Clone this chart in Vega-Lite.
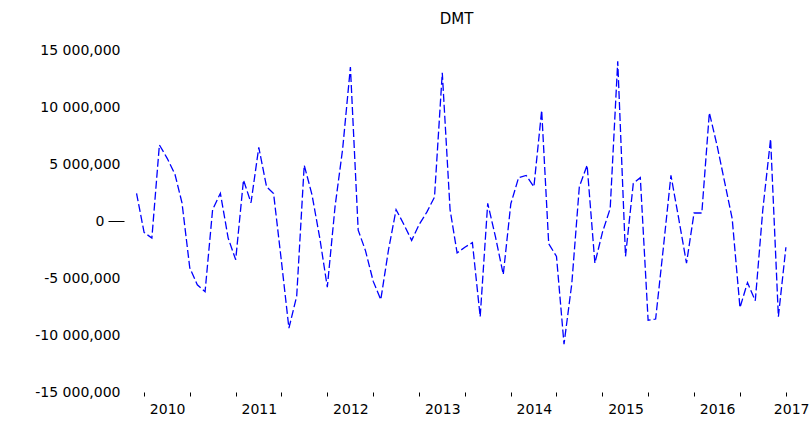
{
  "$schema": "https://vega.github.io/schema/vega-lite/v6.json",
  "autosize": "none",
  "padding": {"left": 124, "top": 50, "right": 0, "bottom": 34},
  "width": 685,
  "height": 342,
  "background": "white",
  "config": {
    "view": {"stroke": null},
    "font": "DejaVu Sans"
  },
  "title": {
    "text": "DMT",
    "font": "DejaVu Sans",
    "fontSize": 15,
    "fontWeight": "normal",
    "color": "#000000",
    "offset": 16,
    "dx": -10
  },
  "data": {
    "values": [
      {"date": "2009-09-01", "value": 2430000},
      {"date": "2009-10-01", "value": -1000000},
      {"date": "2009-11-01", "value": -1500000},
      {"date": "2009-12-01", "value": 6670000},
      {"date": "2010-01-01", "value": 5500000},
      {"date": "2010-02-01", "value": 4100000},
      {"date": "2010-03-01", "value": 1600000},
      {"date": "2010-04-01", "value": -4100000},
      {"date": "2010-05-01", "value": -5600000},
      {"date": "2010-06-01", "value": -6200000},
      {"date": "2010-07-01", "value": 1000000},
      {"date": "2010-08-01", "value": 2430000},
      {"date": "2010-09-01", "value": -1500000},
      {"date": "2010-10-01", "value": -3400000},
      {"date": "2010-11-01", "value": 3600000},
      {"date": "2010-12-01", "value": 1600000},
      {"date": "2011-01-01", "value": 6460000},
      {"date": "2011-02-01", "value": 3000000},
      {"date": "2011-03-01", "value": 2400000},
      {"date": "2011-04-01", "value": -3500000},
      {"date": "2011-05-01", "value": -9400000},
      {"date": "2011-06-01", "value": -6600000},
      {"date": "2011-07-01", "value": 4900000},
      {"date": "2011-08-01", "value": 2300000},
      {"date": "2011-09-01", "value": -1500000},
      {"date": "2011-10-01", "value": -5800000},
      {"date": "2011-11-01", "value": 1300000},
      {"date": "2011-12-01", "value": 6300000},
      {"date": "2012-01-01", "value": 13500000},
      {"date": "2012-02-01", "value": -800000},
      {"date": "2012-03-01", "value": -2600000},
      {"date": "2012-04-01", "value": -5300000},
      {"date": "2012-05-01", "value": -6900000},
      {"date": "2012-06-01", "value": -2500000},
      {"date": "2012-07-01", "value": 1000000},
      {"date": "2012-08-01", "value": -300000},
      {"date": "2012-09-01", "value": -1700000},
      {"date": "2012-10-01", "value": -300000},
      {"date": "2012-11-01", "value": 800000},
      {"date": "2012-12-01", "value": 2100000},
      {"date": "2013-01-01", "value": 13000000},
      {"date": "2013-02-01", "value": 1000000},
      {"date": "2013-03-01", "value": -2800000},
      {"date": "2013-04-01", "value": -2300000},
      {"date": "2013-05-01", "value": -1900000},
      {"date": "2013-06-01", "value": -8400000},
      {"date": "2013-07-01", "value": 1550000},
      {"date": "2013-08-01", "value": -1400000},
      {"date": "2013-09-01", "value": -4700000},
      {"date": "2013-10-01", "value": 1500000},
      {"date": "2013-11-01", "value": 3800000},
      {"date": "2013-12-01", "value": 4000000},
      {"date": "2014-01-01", "value": 3000000},
      {"date": "2014-02-01", "value": 9700000},
      {"date": "2014-03-01", "value": -2000000},
      {"date": "2014-04-01", "value": -3100000},
      {"date": "2014-05-01", "value": -10800000},
      {"date": "2014-06-01", "value": -5500000},
      {"date": "2014-07-01", "value": 3000000},
      {"date": "2014-08-01", "value": 4900000},
      {"date": "2014-09-01", "value": -3700000},
      {"date": "2014-10-01", "value": -1000000},
      {"date": "2014-11-01", "value": 1100000},
      {"date": "2014-12-01", "value": 14000000},
      {"date": "2015-01-01", "value": -3100000},
      {"date": "2015-02-01", "value": 3300000},
      {"date": "2015-03-01", "value": 3800000},
      {"date": "2015-04-01", "value": -8700000},
      {"date": "2015-05-01", "value": -8600000},
      {"date": "2015-06-01", "value": -2300000},
      {"date": "2015-07-01", "value": 4000000},
      {"date": "2015-08-01", "value": 200000},
      {"date": "2015-09-01", "value": -3700000},
      {"date": "2015-10-01", "value": 700000},
      {"date": "2015-11-01", "value": 700000},
      {"date": "2015-12-01", "value": 9500000},
      {"date": "2016-01-01", "value": 6600000},
      {"date": "2016-02-01", "value": 3300000},
      {"date": "2016-03-01", "value": 200000},
      {"date": "2016-04-01", "value": -7600000},
      {"date": "2016-05-01", "value": -5400000},
      {"date": "2016-06-01", "value": -7000000},
      {"date": "2016-07-01", "value": 1000000},
      {"date": "2016-08-01", "value": 7200000},
      {"date": "2016-09-01", "value": -8400000},
      {"date": "2016-10-01", "value": -2300000}
    ]
  },
  "mark": {"type": "line", "color": "#0000ff", "strokeWidth": 1.3, "strokeDash": [8, 3], "interpolate": "linear"},
  "encoding": {
    "x": {
      "field": "date",
      "type": "temporal",
      "scale": {"type": "utc", "domain": ["2009-07-13", "2017-01-01"], "nice": false},
      "axis": {
        "title": null,
        "domain": false,
        "grid": false,
        "tickCount": {"interval": "month", "step": 3},
        "tickSize": 4,
        "tickWidth": 1,
        "tickColor": "#000000",
        "tickOpacity": {"condition": {"test": "utcmonth(datum.value) % 6 === 3", "value": 1}, "value": 0},
        "labelExpr": "utcmonth(datum.value) === 0 ? utcFormat(datum.value, '%Y') : ''",
        "labelOverlap": false,
        "labelFlush": true,
        "labelFont": "DejaVu Sans",
        "labelFontSize": 14,
        "labelColor": "#000000",
        "labelPadding": 6
      }
    },
    "y": {
      "field": "value",
      "type": "quantitative",
      "scale": {"domain": [-15000000, 15000000], "nice": false, "zero": false},
      "axis": {
        "title": null,
        "domain": false,
        "grid": false,
        "values": [-15000000, -10000000, -5000000, 0, 5000000, 10000000, 15000000],
        "tickSize": 16,
        "tickColor": "#000000",
        "tickOpacity": {"condition": {"test": "datum.value === 0", "value": 1}, "value": 0},
        "labelPadding": {"condition": {"test": "datum.value === 0", "value": 4}, "value": -12},
        "labelExpr": "replace(replace(format(datum.value, ','), ',', ' '), '\u2212', '-')",
        "labelFont": "DejaVu Sans",
        "labelFontSize": 14,
        "labelColor": "#000000"
      }
    }
  }
}
